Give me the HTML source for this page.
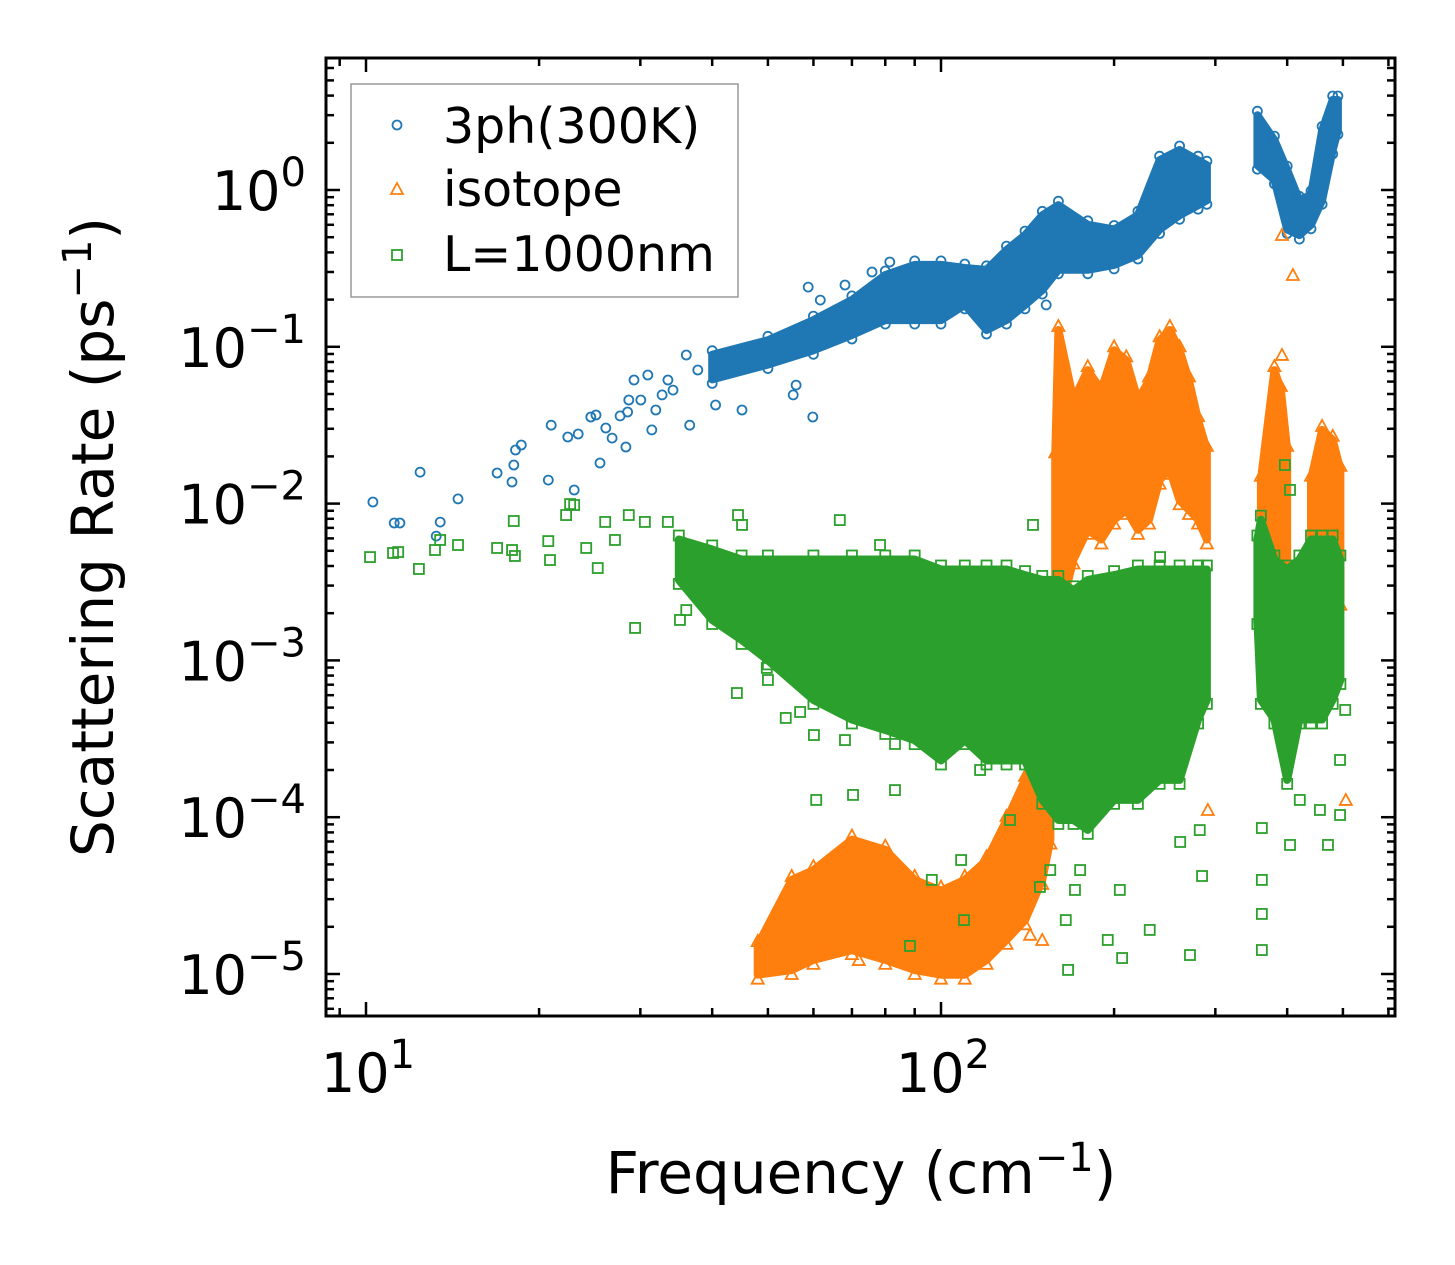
<!DOCTYPE html>
<html><head><meta charset="utf-8"><style>
body{margin:0;background:#fff}
svg{display:block;font-family:"DejaVu Sans","Liberation Sans",sans-serif}
</style></head><body>
<svg id="chart" width="1455" height="1265" viewBox="0 0 1455 1265" xmlns="http://www.w3.org/2000/svg">
<rect width="1455" height="1265" fill="#fff"/>
<g id="marks"></g>
<g id="axes"></g>
<rect x="326" y="58" width="1069" height="958" fill="none" stroke="#000" stroke-width="3"/>
<g>
<rect x="351" y="84" width="387" height="213" fill="#fff" fill-opacity="0.85" stroke="#999" stroke-width="1.5"/>
<g><circle cx="397" cy="125" r="4.5" fill="none" stroke="#1f77b4" stroke-width="1.8"/><text x="443" y="143" font-size="49">3ph(300K)</text></g>
<g><polygon points="397,183 403,194 391,194" fill="none" stroke="#ff7f0e" stroke-width="1.8"/><text x="443" y="206" font-size="49">isotope</text></g>
<g><rect x="392" y="250" width="10" height="10" fill="none" stroke="#2ca02c" stroke-width="1.8"/><text x="443" y="271" font-size="49">L=1000nm</text></g>
</g>
<text x="861" y="1193" font-size="58" text-anchor="middle">Frequency (cm<tspan dy="-22" font-size="40">−1</tspan><tspan dy="22">)</tspan></text>
<text transform="translate(113,537) rotate(-90)" font-size="58" text-anchor="middle">Scattering Rate (ps<tspan dy="-22" font-size="40">−1</tspan><tspan dy="22">)</tspan></text>
</svg>
<script>
// ===== data =====
const blueBandFreq = [40,50,60,70,80,90,100,110,120,130,140,150,160,180,200,220,240,260,280,290];
const blueBandLo = [0.062,0.077,0.095,0.119,0.148,0.148,0.148,0.185,0.128,0.148,0.185,0.23,0.31,0.31,0.333,0.385,0.56,0.69,0.80,0.86];
const blueBandHi = [0.089,0.11,0.148,0.199,0.287,0.333,0.333,0.318,0.31,0.414,0.516,0.69,0.80,0.60,0.56,0.69,1.55,1.8,1.55,1.44];
const blueBand2Freq = [355,380,400,420,440,460,480,490];
const blueBand2Lo = [1.44,1.16,0.56,0.516,0.60,0.86,1.8,2.4];
const blueBand2Hi = [3.0,2.08,1.34,0.86,0.93,2.4,3.75,3.75];
const blueLogFreq = [1.012,1.049,1.059,1.094,1.122,1.129,1.16,1.228,1.254,1.257,1.26,1.27,1.317,1.322,1.351,1.362,1.369,1.391,1.40,1.407,1.417,1.428,1.442,1.452,1.457,1.455,1.466,1.478,1.49,1.497,1.504,1.515,1.525,1.534,1.557,1.563,1.577,1.608,1.654,1.743,1.748,1.777,1.769,1.79,1.833,1.88,1.911,2.183];
const blueLogRate = [-1.99,-2.124,-2.124,-1.80,-2.207,-2.118,-1.97,-1.805,-1.862,-1.754,-1.658,-1.626,-1.85,-1.5,-1.575,-1.913,-1.556,-1.448,-1.435,-1.741,-1.518,-1.582,-1.441,-1.639,-1.339,-1.416,-1.212,-1.339,-1.18,-1.53,-1.403,-1.307,-1.212,-1.276,-1.052,-1.5,-1.148,-1.371,-1.403,-1.307,-1.244,-1.448,-0.619,-0.702,-0.606,-0.523,-0.459,-0.733];

const orBand1Freq = [48,55,60,70,80,90,100,110,120,130,140,150,155];
const orBand1Lo = [9.9e-6,1.06e-5,1.23e-5,1.42e-5,1.23e-5,1.06e-5,9.9e-6,9.9e-6,1.23e-5,1.65e-5,2.2e-5,3.98e-5,7.2e-5];
const orBand1Hi = [1.53e-5,3.98e-5,4.6e-5,7.2e-5,6.2e-5,3.98e-5,3.4e-5,3.98e-5,5.3e-5,9.6e-5,1.73e-4,3.1e-4,5.6e-4];
const orBand2Freq = [158,160,170,180,190,200,210,220,230,240,250,260,270,280,290];
const orBand2Lo = [6e-4,1.81e-3,4.4e-3,6.8e-3,5.9e-3,7.9e-3,9.1e-3,6.8e-3,7.9e-3,0.0142,0.0164,0.0105,9.1e-3,7.9e-3,5.9e-3];
const orBand2Hi = [0.02,0.128,0.0458,0.071,0.053,0.095,0.082,0.0458,0.061,0.11,0.128,0.095,0.061,0.034,0.022];
const orBand3Freq = [360,380,390,400];
const orBand3Lo = [4.4e-3,5.9e-3,2.4e-3,1.81e-3];
const orBand3Hi = [0.0142,0.071,0.053,0.022];
const orBand4Freq = [440,460,480,495];
const orBand4Lo = [1.81e-3,4.4e-3,2.8e-3,2.4e-3];
const orBand4Hi = [0.0142,0.0295,0.0255,0.0164];
const orLogFreq = [2.593,2.612,2.593,2.704,2.464,2.155,2.176,1.79,1.857,1.98,2.06];
const orLogRate = [-0.287,-0.542,-1.052,-3.89,-3.954,-4.75,-4.783,-4.815,-4.911,-4.85,-4.80];

const grBandFreq = [35,40,45,50,60,70,80,90,100,110,120,130,140,150,160,170,180,200,220,240,260,280,290];
const grBandLo = [3.26e-3,1.81e-3,1.35e-3,1.0e-3,5.6e-4,4.2e-4,3.6e-4,3.1e-4,2.3e-4,3.1e-4,2.3e-4,2.3e-4,2.3e-4,1.29e-4,9.6e-5,9.6e-5,8.3e-5,1.29e-4,1.29e-4,1.73e-4,1.73e-4,4.2e-4,5.6e-4];
const grBandHi = [5.9e-3,5.1e-3,4.4e-3,4.4e-3,4.4e-3,4.4e-3,4.4e-3,4.4e-3,3.8e-3,3.8e-3,3.8e-3,3.8e-3,3.5e-3,3.26e-3,3.26e-3,2.8e-3,3.26e-3,3.5e-3,3.8e-3,3.8e-3,3.8e-3,3.8e-3,3.8e-3];
const grBand2Freq = [355,360,380,400,420,440,460,480,495];
const grBand2Lo = [1.81e-3,5.6e-4,4.2e-4,1.73e-4,4.2e-4,4.2e-4,4.2e-4,5.6e-4,7.5e-4];
const grBand2Hi = [5.9e-3,7.9e-3,4.4e-3,3.8e-3,4.4e-3,5.9e-3,5.9e-3,5.9e-3,4.4e-3];
const grLogFreq = [1.007,1.047,1.056,1.092,1.12,1.129,1.16,1.228,1.257,1.254,1.259,1.317,1.32,1.348,1.355,1.362,1.383,1.403,1.416,1.433,1.457,1.468,1.485,1.525,1.546,1.557,1.602,1.647,1.654,1.645,1.697,1.699,1.73,1.755,1.776,1.779,1.783,1.824,1.833,1.847,1.894,1.92,1.92,1.946,1.984,2.01,2.035,2.04,2.068,2.085,2.12,2.172,2.19,2.217,2.233,2.242,2.221,2.29,2.315,2.311,2.363,2.416,2.433,2.45,2.454,2.558,2.558,2.558,2.558,2.607,2.624,2.659,2.673,2.694,2.694,2.598,2.607,2.703,2.183,2.16,2.381];
const grLogRate = [-2.341,-2.315,-2.309,-2.417,-2.296,-2.232,-2.264,-2.283,-2.111,-2.296,-2.334,-2.239,-2.36,-2.073,-2.003,-2.009,-2.283,-2.411,-2.117,-2.232,-2.073,-2.793,-2.117,-2.117,-2.742,-2.679,-2.679,-2.073,-2.136,-3.208,-3.048,-3.125,-3.367,-3.329,-3.189,-3.476,-3.89,-2.105,-3.508,-3.858,-2.264,-3.827,-3.533,-4.821,-4.40,-3.54,-4.273,-4.656,-3.699,-3.508,-4.018,-4.445,-4.337,-4.656,-4.464,-4.337,-4.974,-4.783,-4.898,-4.464,-4.719,-4.158,-4.879,-4.082,-4.375,-4.40,-4.617,-4.847,-4.069,-4.177,-3.89,-3.954,-4.177,-3.986,-3.635,-1.754,-1.913,-3.316,-2.615,-2.136,-2.341];

const xTickExps = [1,2];
const yTickExps = [0,-1,-2,-3,-4,-5];

// ===== axis functions =====
const X0=366, XD=575, Y0=190, YD=156.8;
function xl(lf){return X0+(lf-1)*XD;}
function yl(lr){return Y0-lr*YD;}
function xs(f){return xl(Math.log10(f));}
function ys(r){return yl(Math.log10(r));}
const NS="http://www.w3.org/2000/svg";
const marks=document.getElementById('marks');
const axes=document.getElementById('axes');
function mk(tag,attrs,parent){const e=document.createElementNS(NS,tag);for(const k in attrs)e.setAttribute(k,attrs[k]);parent.appendChild(e);return e;}

function marker(kind,x,y,color,g){
  if(kind==='o') return mk('circle',{cx:x.toFixed(1),cy:y.toFixed(1),r:4.5,fill:'none',stroke:color,'stroke-width':1.8},g);
  if(kind==='^') return mk('polygon',{points:`${x},${y-6} ${x+6},${y+5} ${x-6},${y+5}`,fill:'none',stroke:color,'stroke-width':1.8},g);
  return mk('rect',{x:x-5,y:y-5,width:10,height:10,fill:'none',stroke:color,'stroke-width':1.8},g);
}
function band(freq,lo,hi,color,kind,g,name){
  let pts=[];
  for(let i=0;i<freq.length;i++)pts.push(xs(freq[i]).toFixed(1)+','+ys(hi[i]).toFixed(1));
  for(let i=freq.length-1;i>=0;i--)pts.push(xs(freq[i]).toFixed(1)+','+ys(lo[i]).toFixed(1));
  const p=mk('polygon',{points:pts.join(' '),fill:color,stroke:color,'stroke-width':8,'stroke-linejoin':'round'},g);
  
  
  for(let i=0;i<freq.length;i++){
    const m1=marker(kind,xs(freq[i]),ys(hi[i])-4,color,g);
    
    
    const m2=marker(kind,xs(freq[i]),ys(lo[i])+4,color,g);
    
    
  }
}
function scatter(lfs,lrs,color,kind,g,name){
  for(let i=0;i<lfs.length;i++){
    const m=marker(kind,xl(lfs[i]),yl(lrs[i]),color,g);
    
    
  }
}
const gB=mk('g',{},marks);


band(blueBandFreq,blueBandLo,blueBandHi,'#1f77b4','o',gB,'3ph-band');
band(blueBand2Freq,blueBand2Lo,blueBand2Hi,'#1f77b4','o',gB,'3ph-band-high');
scatter(blueLogFreq,blueLogRate,'#1f77b4','o',gB,'3ph-point');
const gO=mk('g',{},marks);


band(orBand1Freq,orBand1Lo,orBand1Hi,'#ff7f0e','^',gO,'isotope-band-low');
band(orBand2Freq,orBand2Lo,orBand2Hi,'#ff7f0e','^',gO,'isotope-band-mid');
band(orBand3Freq,orBand3Lo,orBand3Hi,'#ff7f0e','^',gO,'isotope-band-high1');
band(orBand4Freq,orBand4Lo,orBand4Hi,'#ff7f0e','^',gO,'isotope-band-high2');
scatter(orLogFreq,orLogRate,'#ff7f0e','^',gO,'isotope-point');
const gG=mk('g',{},marks);


band(grBandFreq,grBandLo,grBandHi,'#2ca02c','s',gG,'l1000nm-band');
band(grBand2Freq,grBand2Lo,grBand2Hi,'#2ca02c','s',gG,'l1000nm-band-high');
scatter(grLogFreq,grLogRate,'#2ca02c','s',gG,'l1000nm-point');

// ===== ticks =====
const L=326,R=1395,T=58,B=1016;
function line(x1,y1,x2,y2){return mk('line',{x1,y1,x2,y2,stroke:'#000','stroke-width':2.5},axes);}
for(let d=0;d<=3;d++){
  for(let m=1;m<=9;m++){
    const lf=d+Math.log10(m); const x=xl(lf);
    if(x<L+1||x>R-1)continue;
    const len=m===1?14:8;
    line(x,B,x,B-len); line(x,T,x,T+len);
  }
}
xTickExps.forEach(e=>{
  const t=mk('text',{x:xl(e)+2,y:1092,'font-size':54,'text-anchor':'middle'},axes);
  
  
  t.innerHTML='10<tspan dy="-24" font-size="40">'+e+'</tspan>';
});
for(let d=-6;d<=1;d++){
  for(let m=1;m<=9;m++){
    const lr=d+Math.log10(m); const y=yl(lr);
    if(y<T+1||y>B-1)continue;
    const len=m===1?14:8;
    line(L,y,L+len,y); line(R,y,R-len,y);
  }
}
yTickExps.forEach(e=>{
  const t=mk('text',{x:306,y:yl(e)+20,'font-size':54,'text-anchor':'end'},axes);
  
  
  t.innerHTML='10<tspan dy="-24" font-size="40">'+(e<0?'−'+(-e):e)+'</tspan>';
});
</script>
</body></html>
